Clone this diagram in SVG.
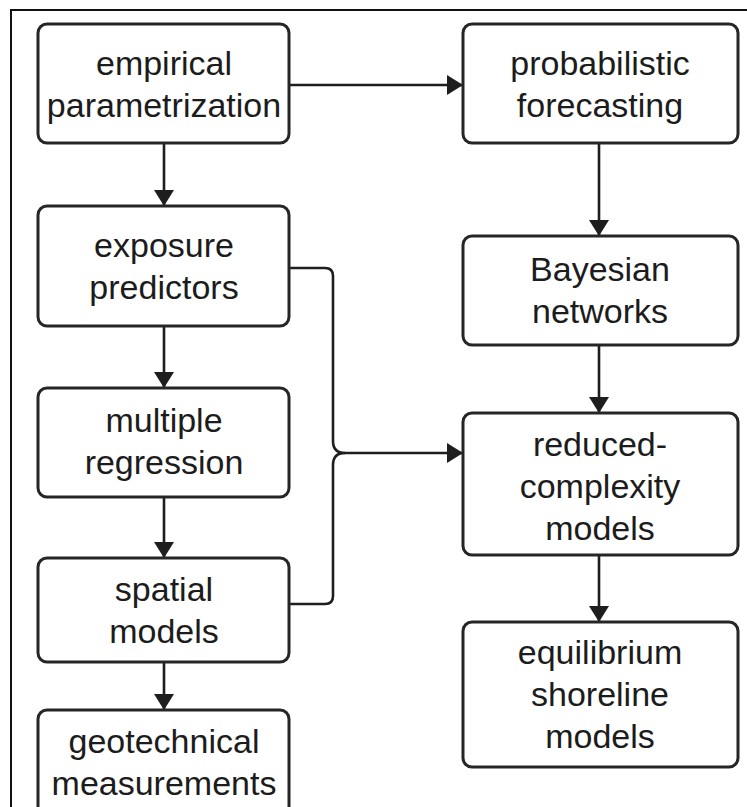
<svg xmlns="http://www.w3.org/2000/svg" width="747" height="807" viewBox="0 0 747 807">
<defs>
<style>
.box{fill:#fff;stroke:#262626;stroke-width:3}
.lbl{font-family:"Liberation Sans",Arial,Helvetica,sans-serif;font-size:34px;fill:#1c1c1c;text-anchor:middle}
.con{fill:none;stroke:#1e1e1e;stroke-width:2.6}
.frame{fill:none;stroke:#111;stroke-width:2}
</style>
<marker id="ah" viewBox="0 0 16 20" refX="15" refY="10" markerWidth="16" markerHeight="20" markerUnits="userSpaceOnUse" orient="auto">
<path d="M0,0 L16,10 L0,20 Z" fill="#1e1e1e"/>
</marker>
</defs>
<rect width="747" height="807" fill="#fff"/>
<path class="frame" d="M11,807 V10 H747"/>

<g id="connectors">
<path class="con" d="M290,85 H462" marker-end="url(#ah)"/>
<path class="con" d="M164,143 V205" marker-end="url(#ah)"/>
<path class="con" d="M599,143 V235" marker-end="url(#ah)"/>
<path class="con" d="M164,326 V387" marker-end="url(#ah)"/>
<path class="con" d="M599,345 V412" marker-end="url(#ah)"/>
<path class="con" d="M164,497 V557" marker-end="url(#ah)"/>
<path class="con" d="M599,555 V621" marker-end="url(#ah)"/>
<path class="con" d="M164,662 V709" marker-end="url(#ah)"/>
<path class="con" d="M289,268 H325 Q333,268 333,276 V441 Q333,453 345,453"/>
<path class="con" d="M289,604 H325 Q333,604 333,596 V465 Q333,453 345,453"/>
<path class="con" d="M345,453 H462" marker-end="url(#ah)"/>
</g>

<g id="n-empirical">
<rect class="box" x="38" y="24" width="251" height="119" rx="9"/>
<text class="lbl" x="164" y="75">empirical</text>
<text class="lbl" x="164" y="117">parametrization</text>
</g>
<g id="n-probabilistic">
<rect class="box" x="463" y="24" width="275" height="119" rx="9"/>
<text class="lbl" x="600" y="75">probabilistic</text>
<text class="lbl" x="600" y="117">forecasting</text>
</g>
<g id="n-exposure">
<rect class="box" x="38" y="206" width="251" height="120" rx="9"/>
<text class="lbl" x="164" y="257">exposure</text>
<text class="lbl" x="164" y="299">predictors</text>
</g>
<g id="n-bayesian">
<rect class="box" x="463" y="236" width="275" height="109" rx="9"/>
<text class="lbl" x="600" y="281">Bayesian</text>
<text class="lbl" x="600" y="323">networks</text>
</g>
<g id="n-multiple">
<rect class="box" x="38" y="388" width="251" height="109" rx="9"/>
<text class="lbl" x="164" y="432">multiple</text>
<text class="lbl" x="164" y="474">regression</text>
</g>
<g id="n-reduced">
<rect class="box" x="463" y="413" width="275" height="142" rx="9"/>
<text class="lbl" x="600" y="456">reduced-</text>
<text class="lbl" x="600" y="498">complexity</text>
<text class="lbl" x="600" y="540">models</text>
</g>
<g id="n-spatial">
<rect class="box" x="38" y="558" width="251" height="104" rx="9"/>
<text class="lbl" x="164" y="601">spatial</text>
<text class="lbl" x="164" y="643">models</text>
</g>
<g id="n-equilibrium">
<rect class="box" x="463" y="622" width="275" height="145" rx="9"/>
<text class="lbl" x="600" y="664">equilibrium</text>
<text class="lbl" x="600" y="706">shoreline</text>
<text class="lbl" x="600" y="748">models</text>
</g>
<g id="n-geotechnical">
<rect class="box" x="38" y="710" width="251" height="120" rx="9"/>
<text class="lbl" x="164" y="753">geotechnical</text>
<text class="lbl" x="164" y="795">measurements</text>
</g>
</svg>
